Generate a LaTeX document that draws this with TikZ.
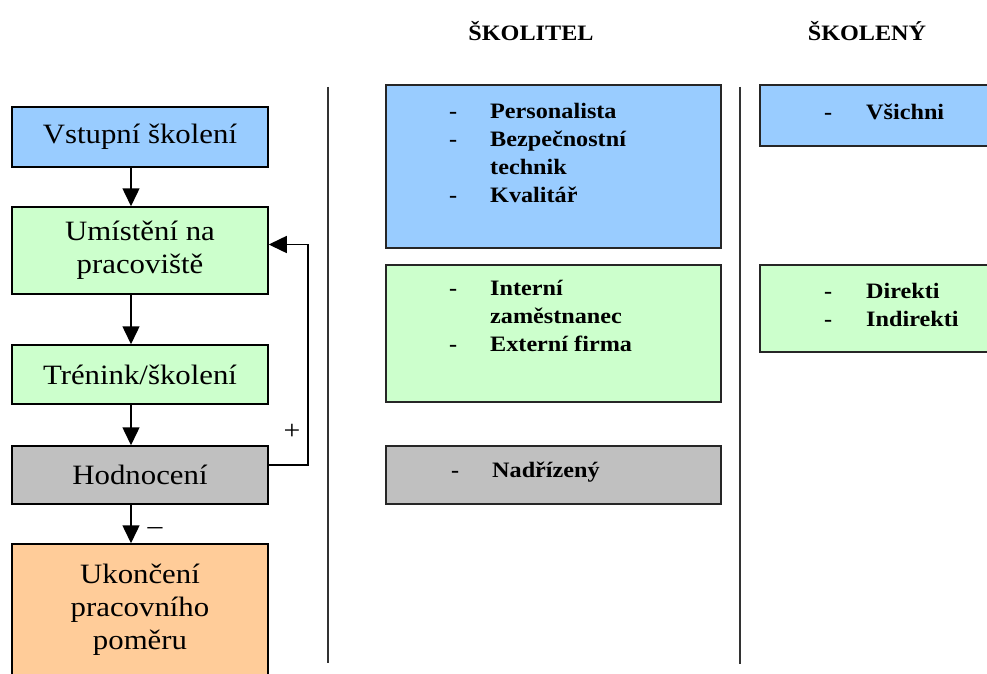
\documentclass[tikz,border=0pt]{standalone}
\usepackage{fontspec}
\setmainfont{Liberation Serif}[FakeStretch=1.1]
\usepackage{array}
\usetikzlibrary{arrows.meta}

\begin{document}
\begin{tikzpicture}[x=1pt,y=-1pt,>=Triangle,
  stagebox/.style={draw=black,line width=1.5pt,minimum width=256pt,align=center,font=\fontsize{28}{33}\selectfont,inner sep=2pt},
  rolebox/.style={draw=black!85,line width=1.5pt},
  rolelist/.style={anchor=west,inner sep=0pt,font=\bfseries\fontsize{22}{28}\selectfont},
  flow/.style={line width=1.5pt,-{Triangle[width=17pt,length=18pt]}}]
\clip (0,0) rectangle (987,674);
\fill[white] (0,0) rectangle (987,674);
% left column: the stages
\node[stagebox,fill={rgb,255:red,153;green,204;blue,255},minimum height=60pt] (vst) at (140,137) {Vstupní školení};
\node[stagebox,fill={rgb,255:red,204;green,255;blue,204},minimum height=87pt] (umi) at (140,250.5) {Umístění na\\pracoviště};
\node[stagebox,fill={rgb,255:red,204;green,255;blue,204},minimum height=59pt] (tre) at (140,374.5) {Trénink/školení};
\node[stagebox,fill={rgb,255:red,192;green,192;blue,192},minimum height=58pt] (hod) at (140,475) {Hodnocení};
\node[stagebox,fill={rgb,255:red,255;green,204;blue,153},minimum height=132pt] (uko) at (140,610) {Ukončení\\pracovního\\poměru};
\draw[flow] ([xshift=-9pt]vst.south)--([xshift=-9pt]umi.north);
\draw[flow] ([xshift=-9pt]umi.south)--([xshift=-9pt]tre.north);
\draw[flow] ([xshift=-9pt]tre.south)--([xshift=-9pt]hod.north);
\draw[flow] ([xshift=-9pt]hod.south)--([xshift=-9pt]uko.north);
\draw[flow] ([yshift=10pt]hod.east)--++(39,0)|-([yshift=6pt]umi.east);
\node[font=\fontsize{27}{30}\selectfont] (plus) at (292,432) {+};
\node[font=\fontsize{27}{30}\selectfont] (minus) at (155,531) {--};
% dividers
\draw[line width=1.8pt,black!80] (328,87)--(328,663);
\draw[line width=1.8pt,black!80] (740,87)--(740,664);
% headers
\node[font=\bfseries\fontsize{22}{26}\selectfont] (hskt) at (531,31) {ŠKOLITEL};
\node[font=\bfseries\fontsize{22}{26}\selectfont] (hskd) at (867,31) {ŠKOLENÝ};
% middle column
\node[rolebox,fill={rgb,255:red,153;green,204;blue,255},minimum width=335pt,minimum height=163pt] (mblue) at (553.5,166.5) {};
\node[rolebox,fill={rgb,255:red,204;green,255;blue,204},minimum width=335pt,minimum height=137pt] (mgreen) at (553.5,333.5) {};
\node[rolebox,fill={rgb,255:red,192;green,192;blue,192},minimum width=335pt,minimum height=58pt] (mgray) at (553.5,475) {};
\node[rolelist] (lblue) at (449,155) {\begin{tabular}{@{}p{41pt}@{}l@{}}-&Personalista\\-&Bezpečnostní\\&technik\\-&Kvalitář\end{tabular}};
\node[rolelist] (lgreen) at (449,318) {\begin{tabular}{@{}p{41pt}@{}l@{}}-&Interní\\&zaměstnanec\\-&Externí firma\end{tabular}};
\node[rolelist] (lgray) at (451,472) {\begin{tabular}{@{}p{41pt}@{}l@{}}-&Nadřízený\end{tabular}};
% right column
\node[rolebox,fill={rgb,255:red,153;green,204;blue,255},minimum width=250pt,minimum height=61pt,anchor=west] (rblue) at (759,115.5) {};
\node[rolebox,fill={rgb,255:red,204;green,255;blue,204},minimum width=250pt,minimum height=87pt,anchor=west] (rgreen) at (759,308.5) {};
\node[rolelist] (lrblue) at (824,114) {\begin{tabular}{@{}p{42pt}@{}l@{}}-&Všichni\end{tabular}};
\node[rolelist] (lrgreen) at (824,307) {\begin{tabular}{@{}p{42pt}@{}l@{}}-&Direkti\\-&Indirekti\end{tabular}};
\end{tikzpicture}
\end{document}
